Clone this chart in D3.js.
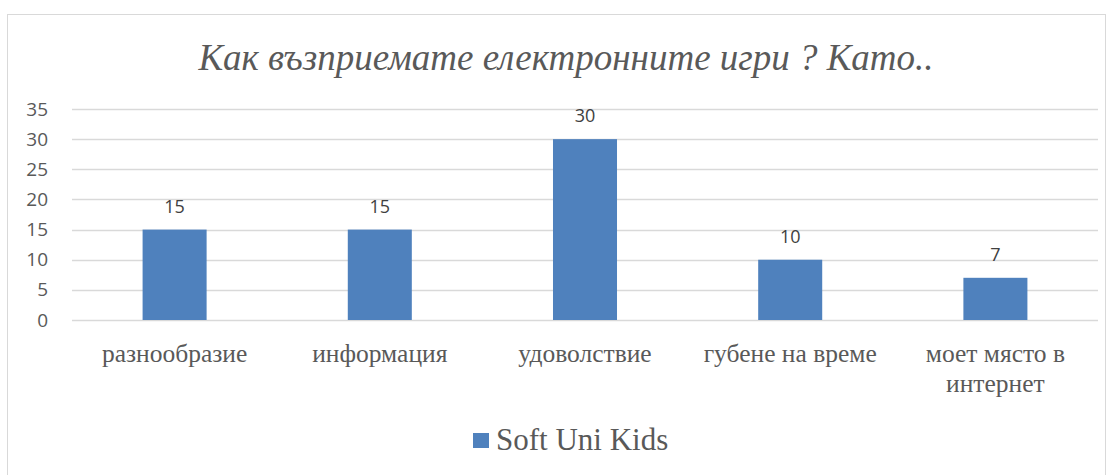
<!DOCTYPE html>
<html>
<head>
<meta charset="utf-8">
<script src="https://cdn.jsdelivr.net/npm/d3@7"></script>
<style>
  body { margin: 0; background: #fff; }
</style>
</head>
<body>
<div id="chart"></div>
<script>
// data
var categories = ["разнообразие", "информация", "удоволствие", "губене на време", "моет място в интернет"];
var values = [15, 15, 30, 10, 7];
var yTicks = [0, 5, 10, 15, 20, 25, 30, 35];
var seriesName = "Soft Uni Kids";
var title = "Как възприемате електронните игри ? Като..";

var width = 1116, height = 475;
var margin = {left: 72, right: 18, top: 109, bottom: 155};
var grey = "#595959", barColor = "#4f81bd";

var svg = d3.select("#chart").append("svg")
  .attr("width", width)
  .attr("height", height);

// outer chart border
svg.append("rect")
  .attr("x", 7.5).attr("y", 14.5)
  .attr("width", 1098).attr("height", 470)
  .attr("fill", "#fff")
  .attr("stroke", "#d9d9d9");

var x = d3.scaleBand()
  .domain(categories)
  .range([margin.left, width - margin.right])
  .paddingInner(0.688)
  .paddingOuter(0.344);

var y = d3.scaleLinear()
  .domain([0, 35])
  .range([height - margin.bottom, margin.top]);

// title
svg.append("text")
  .attr("x", 566).attr("y", 70)
  .attr("text-anchor", "middle")
  .style("font-family", "'Liberation Serif', 'Times New Roman', serif")
  .style("font-style", "italic")
  .style("font-size", "37px")
  .attr("fill", grey)
  .text(title);

// gridlines
svg.append("g")
  .selectAll("line")
  .data(yTicks)
  .enter().append("line")
  .attr("x1", margin.left).attr("x2", width - margin.right)
  .attr("y1", function(d) { return Math.round(y(d)) + 0.5; })
  .attr("y2", function(d) { return Math.round(y(d)) + 0.5; })
  .attr("stroke", "#d9d9d9")
  .attr("stroke-width", 1.3);

// y axis labels
var yAxis = svg.append("g")
  .attr("transform", "translate(" + (margin.left - 24) + ",0)")
  .call(d3.axisLeft(y).tickValues(yTicks).tickSize(0).tickPadding(0));
yAxis.select(".domain").remove();
yAxis.selectAll("text")
  .attr("fill", grey)
  .style("font-family", "'Open Sans', 'Liberation Sans', sans-serif")
  .style("font-size", "19px");

// bars
svg.append("g")
  .selectAll("rect")
  .data(values)
  .enter().append("rect")
  .attr("x", function(d, i) { return x(categories[i]); })
  .attr("y", function(d) { return y(d); })
  .attr("width", x.bandwidth())
  .attr("height", function(d) { return y(0) - y(d); })
  .attr("fill", barColor);

// value labels
svg.append("g")
  .selectAll("text")
  .data(values)
  .enter().append("text")
  .attr("x", function(d, i) { return x(categories[i]) + x.bandwidth() / 2; })
  .attr("y", function(d) { return y(d) - 17; })
  .attr("text-anchor", "middle")
  .attr("fill", "#404040")
  .style("font-family", "'Open Sans', 'Liberation Sans', sans-serif")
  .style("font-size", "18px")
  .text(function(d) { return d; });

// category labels (wrap the long last one like the original)
var wrapped = {"моет място в интернет": ["моет място в", "интернет"]};
svg.append("g")
  .selectAll("text")
  .data(categories)
  .enter().append("text")
  .attr("x", function(d) { return x(d) + x.bandwidth() / 2; })
  .attr("y", 362)
  .attr("text-anchor", "middle")
  .attr("fill", grey)
  .style("font-family", "'Liberation Serif', 'Times New Roman', serif")
  .style("font-size", "25.5px")
  .each(function(d) {
    var lines = wrapped[d] || [d];
    d3.select(this).selectAll("tspan")
      .data(lines)
      .enter().append("tspan")
      .attr("x", x(d) + x.bandwidth() / 2)
      .attr("dy", function(l, i) { return i ? 30 : 0; })
      .text(function(l) { return l; });
  });

// legend
var legend = svg.append("g");
legend.append("rect")
  .attr("x", 473).attr("y", 433)
  .attr("width", 16).attr("height", 15)
  .attr("fill", barColor);
legend.append("text")
  .attr("x", 496).attr("y", 450)
  .attr("fill", grey)
  .style("font-family", "'Liberation Serif', 'Times New Roman', serif")
  .style("font-size", "31px")
  .text(seriesName);
</script>
</body>
</html>
